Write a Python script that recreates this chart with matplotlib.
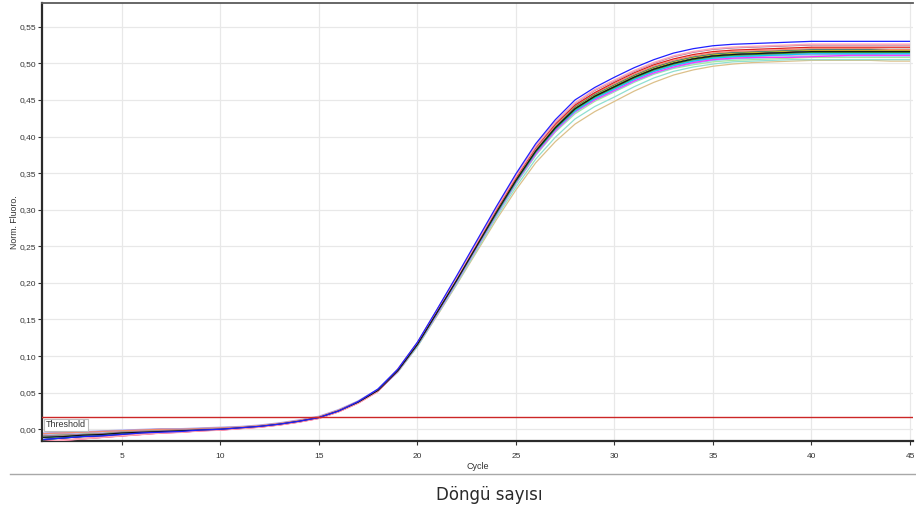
import matplotlib
matplotlib.use("Agg")
import matplotlib.pyplot as plt
from matplotlib.ticker import FuncFormatter
from matplotlib.lines import Line2D

# Amplification cycles
cycles = list(range(1, 46))

# Normalised fluorescence per well (cycles 1..45)
well_blue = [-0.014, -0.012, -0.010, -0.009, -0.007, -0.005, -0.004, -0.003, -0.001, 0.000,
             0.002, 0.004, 0.007, 0.011, 0.016, 0.025, 0.038, 0.055, 0.082, 0.119,
             0.164, 0.210, 0.257, 0.304, 0.349, 0.390, 0.423, 0.450, 0.467, 0.481,
             0.494, 0.505, 0.514, 0.520, 0.524, 0.526, 0.527, 0.528, 0.529, 0.530,
             0.530, 0.530, 0.530, 0.530, 0.530]
well_pink = [-0.017, -0.015, -0.013, -0.011, -0.009, -0.007, -0.005, -0.004, -0.002, -0.001,
             0.001, 0.003, 0.006, 0.010, 0.015, 0.024, 0.036, 0.052, 0.082, 0.118,
             0.163, 0.208, 0.255, 0.302, 0.346, 0.387, 0.420, 0.446, 0.464, 0.477,
             0.490, 0.501, 0.510, 0.516, 0.520, 0.522, 0.523, 0.524, 0.525, 0.526,
             0.526, 0.526, 0.526, 0.526, 0.526]
well_mauve = [-0.009, -0.008, -0.007, -0.006, -0.004, -0.003, -0.002, -0.001, 0.000, 0.001,
              0.002, 0.004, 0.007, 0.011, 0.016, 0.025, 0.037, 0.053, 0.081, 0.118,
              0.163, 0.207, 0.254, 0.301, 0.346, 0.386, 0.419, 0.445, 0.463, 0.476,
              0.489, 0.500, 0.509, 0.515, 0.519, 0.521, 0.522, 0.523, 0.524, 0.525,
              0.525, 0.525, 0.525, 0.525, 0.525]
well_red = [-0.017, -0.015, -0.013, -0.011, -0.009, -0.007, -0.005, -0.004, -0.002, -0.001,
            0.001, 0.003, 0.006, 0.010, 0.015, 0.024, 0.036, 0.052, 0.081, 0.117,
            0.162, 0.206, 0.253, 0.300, 0.344, 0.385, 0.417, 0.443, 0.460, 0.474,
            0.487, 0.498, 0.506, 0.512, 0.516, 0.518, 0.519, 0.520, 0.521, 0.522,
            0.522, 0.522, 0.522, 0.522, 0.522]
well_salmon = [-0.006, -0.005, -0.004, -0.003, -0.002, -0.001, 0.000, 0.000, 0.001, 0.002,
               0.003, 0.005, 0.008, 0.012, 0.017, 0.026, 0.038, 0.054, 0.081, 0.117,
               0.161, 0.206, 0.252, 0.298, 0.343, 0.383, 0.415, 0.442, 0.459, 0.472,
               0.485, 0.496, 0.504, 0.510, 0.514, 0.516, 0.517, 0.518, 0.519, 0.520,
               0.520, 0.520, 0.520, 0.519, 0.519]
well_teal = [-0.011, -0.010, -0.008, -0.007, -0.005, -0.004, -0.003, -0.002, -0.001, 0.000,
             0.002, 0.004, 0.007, 0.011, 0.016, 0.025, 0.037, 0.053, 0.080, 0.117,
             0.161, 0.205, 0.252, 0.298, 0.342, 0.382, 0.414, 0.441, 0.458, 0.471,
             0.484, 0.495, 0.503, 0.509, 0.513, 0.515, 0.516, 0.517, 0.518, 0.519,
             0.519, 0.519, 0.519, 0.519, 0.519]
well_yellow = [-0.009, -0.008, -0.007, -0.006, -0.004, -0.003, -0.002, -0.001, 0.000, 0.001,
               0.002, 0.004, 0.007, 0.011, 0.016, 0.025, 0.037, 0.053, 0.080, 0.116,
               0.161, 0.205, 0.251, 0.297, 0.341, 0.382, 0.414, 0.440, 0.457, 0.470,
               0.483, 0.494, 0.502, 0.508, 0.512, 0.514, 0.515, 0.516, 0.517, 0.518,
               0.518, 0.518, 0.518, 0.518, 0.518]
well_navy = [-0.014, -0.012, -0.010, -0.009, -0.007, -0.005, -0.004, -0.003, -0.001, 0.000,
             0.002, 0.004, 0.007, 0.011, 0.016, 0.025, 0.037, 0.053, 0.080, 0.116,
             0.160, 0.205, 0.251, 0.297, 0.341, 0.381, 0.413, 0.439, 0.456, 0.469,
             0.482, 0.493, 0.501, 0.507, 0.511, 0.513, 0.514, 0.515, 0.516, 0.517,
             0.517, 0.517, 0.517, 0.517, 0.517]
well_black = [-0.011, -0.010, -0.008, -0.007, -0.005, -0.004, -0.003, -0.002, -0.001, 0.000,
              0.002, 0.004, 0.007, 0.011, 0.016, 0.025, 0.037, 0.053, 0.080, 0.116,
              0.160, 0.204, 0.250, 0.296, 0.340, 0.380, 0.412, 0.438, 0.455, 0.468,
              0.481, 0.492, 0.500, 0.506, 0.510, 0.512, 0.513, 0.514, 0.515, 0.516,
              0.516, 0.516, 0.516, 0.516, 0.516]
well_green = [-0.014, -0.012, -0.010, -0.009, -0.007, -0.005, -0.004, -0.003, -0.001, 0.000,
              0.002, 0.004, 0.007, 0.011, 0.016, 0.025, 0.037, 0.053, 0.080, 0.116,
              0.160, 0.204, 0.250, 0.295, 0.339, 0.379, 0.411, 0.437, 0.454, 0.467,
              0.480, 0.491, 0.499, 0.505, 0.509, 0.511, 0.512, 0.513, 0.514, 0.515,
              0.515, 0.515, 0.515, 0.515, 0.515]
well_lavender = [-0.006, -0.005, -0.004, -0.003, -0.002, -0.001, 0.000, 0.000, 0.001, 0.002,
                 0.003, 0.005, 0.008, 0.012, 0.017, 0.026, 0.038, 0.054, 0.080, 0.116,
                 0.159, 0.203, 0.249, 0.295, 0.339, 0.378, 0.410, 0.436, 0.453, 0.466,
                 0.479, 0.490, 0.498, 0.504, 0.508, 0.510, 0.511, 0.512, 0.513, 0.514,
                 0.514, 0.514, 0.514, 0.514, 0.514]
well_cyan = [-0.009, -0.008, -0.007, -0.006, -0.004, -0.003, -0.002, -0.001, 0.000, 0.001,
             0.002, 0.004, 0.007, 0.011, 0.016, 0.025, 0.037, 0.053, 0.080, 0.115,
             0.159, 0.203, 0.249, 0.294, 0.338, 0.378, 0.410, 0.435, 0.452, 0.465,
             0.478, 0.489, 0.497, 0.503, 0.507, 0.509, 0.510, 0.511, 0.512, 0.513,
             0.513, 0.513, 0.513, 0.513, 0.513]
well_magenta = [-0.017, -0.015, -0.013, -0.011, -0.009, -0.007, -0.005, -0.004, -0.002, -0.001,
                0.001, 0.003, 0.006, 0.010, 0.015, 0.024, 0.036, 0.052, 0.079, 0.115,
                0.158, 0.202, 0.248, 0.293, 0.337, 0.376, 0.408, 0.434, 0.450, 0.463,
                0.476, 0.487, 0.495, 0.501, 0.505, 0.507, 0.508, 0.508, 0.508, 0.509,
                0.510, 0.511, 0.511, 0.511, 0.511]
well_plum = [-0.006, -0.005, -0.004, -0.003, -0.002, -0.001, 0.000, 0.000, 0.001, 0.002,
             0.003, 0.005, 0.008, 0.012, 0.017, 0.026, 0.038, 0.054, 0.079, 0.115,
             0.159, 0.203, 0.248, 0.294, 0.338, 0.377, 0.409, 0.435, 0.452, 0.465,
             0.478, 0.489, 0.497, 0.502, 0.506, 0.508, 0.509, 0.510, 0.511, 0.512,
             0.512, 0.512, 0.512, 0.511, 0.511]
well_lightblue = [-0.014, -0.012, -0.010, -0.009, -0.007, -0.005, -0.004, -0.003, -0.001, 0.000,
                  0.002, 0.004, 0.007, 0.011, 0.016, 0.025, 0.037, 0.053, 0.079, 0.115,
                  0.158, 0.202, 0.247, 0.292, 0.336, 0.375, 0.407, 0.433, 0.450, 0.462,
                  0.475, 0.486, 0.494, 0.500, 0.504, 0.506, 0.507, 0.508, 0.509, 0.510,
                  0.510, 0.510, 0.510, 0.510, 0.510]
well_lightgreen = [-0.011, -0.010, -0.008, -0.007, -0.005, -0.004, -0.003, -0.002, -0.001, 0.000,
                   0.002, 0.004, 0.007, 0.011, 0.016, 0.025, 0.037, 0.053, 0.079, 0.114,
                   0.158, 0.201, 0.246, 0.292, 0.335, 0.374, 0.406, 0.431, 0.448, 0.461,
                   0.474, 0.485, 0.493, 0.498, 0.502, 0.504, 0.505, 0.506, 0.507, 0.508,
                   0.508, 0.508, 0.508, 0.508, 0.508]
well_aqua = [-0.009, -0.008, -0.007, -0.006, -0.004, -0.003, -0.002, -0.001, 0.000, 0.001,
             0.002, 0.004, 0.007, 0.011, 0.016, 0.025, 0.037, 0.053, 0.078, 0.113,
             0.156, 0.199, 0.244, 0.289, 0.331, 0.369, 0.399, 0.424, 0.441, 0.454,
             0.468, 0.480, 0.489, 0.495, 0.499, 0.502, 0.503, 0.504, 0.505, 0.505,
             0.505, 0.505, 0.505, 0.505, 0.505]
well_tan = [-0.006, -0.005, -0.004, -0.003, -0.002, -0.001, 0.000, 0.000, 0.001, 0.002,
            0.003, 0.005, 0.008, 0.012, 0.017, 0.026, 0.038, 0.054, 0.078, 0.113,
            0.155, 0.198, 0.242, 0.286, 0.327, 0.364, 0.393, 0.417, 0.434, 0.448,
            0.462, 0.474, 0.484, 0.491, 0.496, 0.499, 0.501, 0.502, 0.503, 0.504,
            0.504, 0.504, 0.504, 0.503, 0.503]

threshold = 0.0164

x_ticks = [5, 10, 15, 20, 25, 30, 35, 40, 45]
y_ticks = [0.00, 0.05, 0.10, 0.15, 0.20, 0.25, 0.30, 0.35, 0.40, 0.45, 0.50, 0.55]

wells = [
    (well_tan, "#dcc08a", 0.9),
    (well_aqua, "#8fdfd0", 0.9),
    (well_lightgreen, "#a8e8a0", 0.9),
    (well_lightblue, "#8ccbf0", 1.0),
    (well_plum, "#d9a3dc", 1.0),
    (well_lavender, "#a6a6f0", 1.8),
    (well_magenta, "#ff33ff", 0.9),
    (well_cyan, "#10c8f8", 0.9),
    (well_green, "#2ca02c", 0.9),
    (well_navy, "#1b2a7a", 0.8),
    (well_yellow, "#e5c400", 0.9),
    (well_teal, "#138080", 0.9),
    (well_salmon, "#f08a70", 0.9),
    (well_red, "#e0201e", 0.9),
    (well_mauve, "#9c7a9c", 0.9),
    (well_pink, "#ffa8b8", 1.2),
    (well_black, "#111111", 0.8),
    (well_blue, "#2020ff", 0.9),
]

fig = plt.figure(figsize=(9.16, 5.08), dpi=100)
ax = fig.add_axes([0.0459, 0.1319, 0.9508, 0.8622])

for values, color, lw in wells:
    ax.plot(cycles, values, color=color, lw=lw, solid_capstyle="butt", zorder=3)

ax.axhline(threshold, color="#cc2626", lw=1.0, zorder=4)
ax.text(1.15, 0.0062, "Threshold", fontsize=6.5, family="Liberation Sans",
        color="#333333", va="center", ha="left", zorder=6,
        bbox=dict(boxstyle="square,pad=0.18", fc="white", ec="#bdbdbd", lw=0.8))

ax.set_xlim(0.95, 45.15)
ax.set_ylim(-0.016, 0.5824)
ax.set_xticks(x_ticks)
ax.set_yticks(y_ticks)
ax.yaxis.set_major_formatter(FuncFormatter(lambda v, p: f"{v:.2f}".replace(".", ",")))
ax.grid(True, color="#e8e8e8", lw=0.9, zorder=0)
ax.set_axisbelow(True)

ax.tick_params(axis="both", labelsize=6, colors="#333333", length=3, width=0.8,
               direction="out")
ax.tick_params(axis="y", pad=1.5)
ax.tick_params(axis="x", pad=6)
for lab in ax.get_xticklabels() + ax.get_yticklabels():
    lab.set_family("Liberation Sans")
    lab.set_color("#333333")

for side in ("left", "bottom"):
    ax.spines[side].set_color("#2b2b2b")
    ax.spines[side].set_linewidth(1.6)
ax.spines["top"].set_color("#5a5a5a")
ax.spines["top"].set_linewidth(1.3)
ax.spines["right"].set_visible(False)

ax.set_xlabel("Cycle", fontsize=6.5, family="Liberation Sans", color="#333333", labelpad=1)
fig.text(0.0155, 0.563, "Norm. Fluoro.", rotation=90, fontsize=6.3,
         family="Liberation Sans", color="#333333", ha="center", va="center")

# Separator and caption under the plot
fig.add_artist(Line2D([0.011, 1.0], [0.0669, 0.0669], transform=fig.transFigure,
                      color="#a8a8a8", lw=1.0))
fig.text(0.534, 0.0256, "Döngü sayısı", fontsize=12, family="DejaVu Sans",
         color="#2a2a2a", ha="center", va="center")

fig.savefig("out.png", dpi=100)
